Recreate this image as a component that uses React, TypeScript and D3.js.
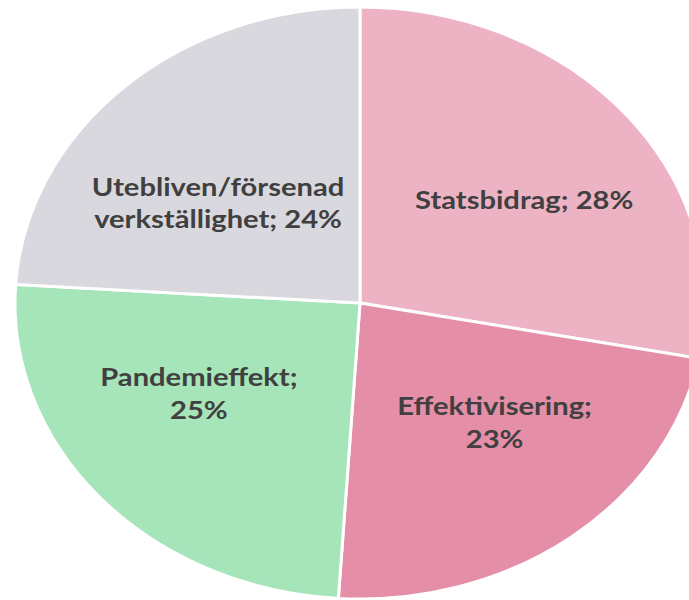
import React from "react";
import * as d3 from "d3";

const categories = ["Statsbidrag", "Effektivisering", "Pandemieffekt", "Utebliven/försenad verkställighet"];
const values = [28, 23, 25, 24];
const labelLines = [
  ["Statsbidrag; 28%"],
  ["Effektivisering;", "23%"],
  ["Pandemieffekt;", "25%"],
  ["Utebliven/försenad", "verkställighet; 24%"],
];
const colors = ["#EDB3C5", "#E58EA8", "#A6E4B9", "#D9D8DE"];

// layout
const W = 689;
const H = 600;
const CX = 360;
const CY = 303;
const R = 296;
const SX = 345 / 296; // horizontal stretch of the reference
const LABEL_R = 0.58 * R;
const LINE_H = 32.5;
const FONT_SIZE = 25;
const CAP = 18;
const labelNudge: [number, number][] = [
  [10, 6],
  [12, -16],
  [-11, -23],
  [-5, 25],
];

export default function App() {
  const pie = d3.pie<number>().sort(null).startAngle(0).endAngle(2 * Math.PI);
  const arcs = pie(values);
  const arc = d3.arc<d3.PieArcDatum<number>>().innerRadius(0).outerRadius(R);
  const labelArc = d3.arc<d3.PieArcDatum<number>>().innerRadius(LABEL_R).outerRadius(LABEL_R);

  return (
    <svg
      width={W}
      height={H}
      style={{ position: "absolute", left: 0, top: 0, background: "#fff" }}
      fontFamily="Lato, 'Open Sans', sans-serif"
    >
      <g transform={`translate(${CX},${CY}) scale(${SX},1)`}>
        {arcs.map((a, i) => (
          <path
            key={categories[i]}
            d={arc(a) || ""}
            fill={colors[i]}
            stroke="#ffffff"
            strokeWidth={3}
            vectorEffect="non-scaling-stroke"
          />
        ))}
      </g>
      {arcs.map((a, i) => {
        const [lx, ly] = labelArc.centroid(a);
        const x = CX + lx * SX + labelNudge[i][0];
        const yc = CY + ly + labelNudge[i][1];
        const lines = labelLines[i];
        const firstBaseline = yc + CAP / 2 - ((lines.length - 1) * LINE_H) / 2;
        return (
          <g key={"l" + i}>
            {lines.map((t, j) => (
              <text
                key={j}
                transform={`translate(${x},${firstBaseline + j * LINE_H}) scale(${SX},1)`}
                textAnchor="middle"
                fontSize={FONT_SIZE}
                fontWeight="bold"
                fill="#404040"
              >
                {t}
              </text>
            ))}
          </g>
        );
      })}
    </svg>
  );
}
